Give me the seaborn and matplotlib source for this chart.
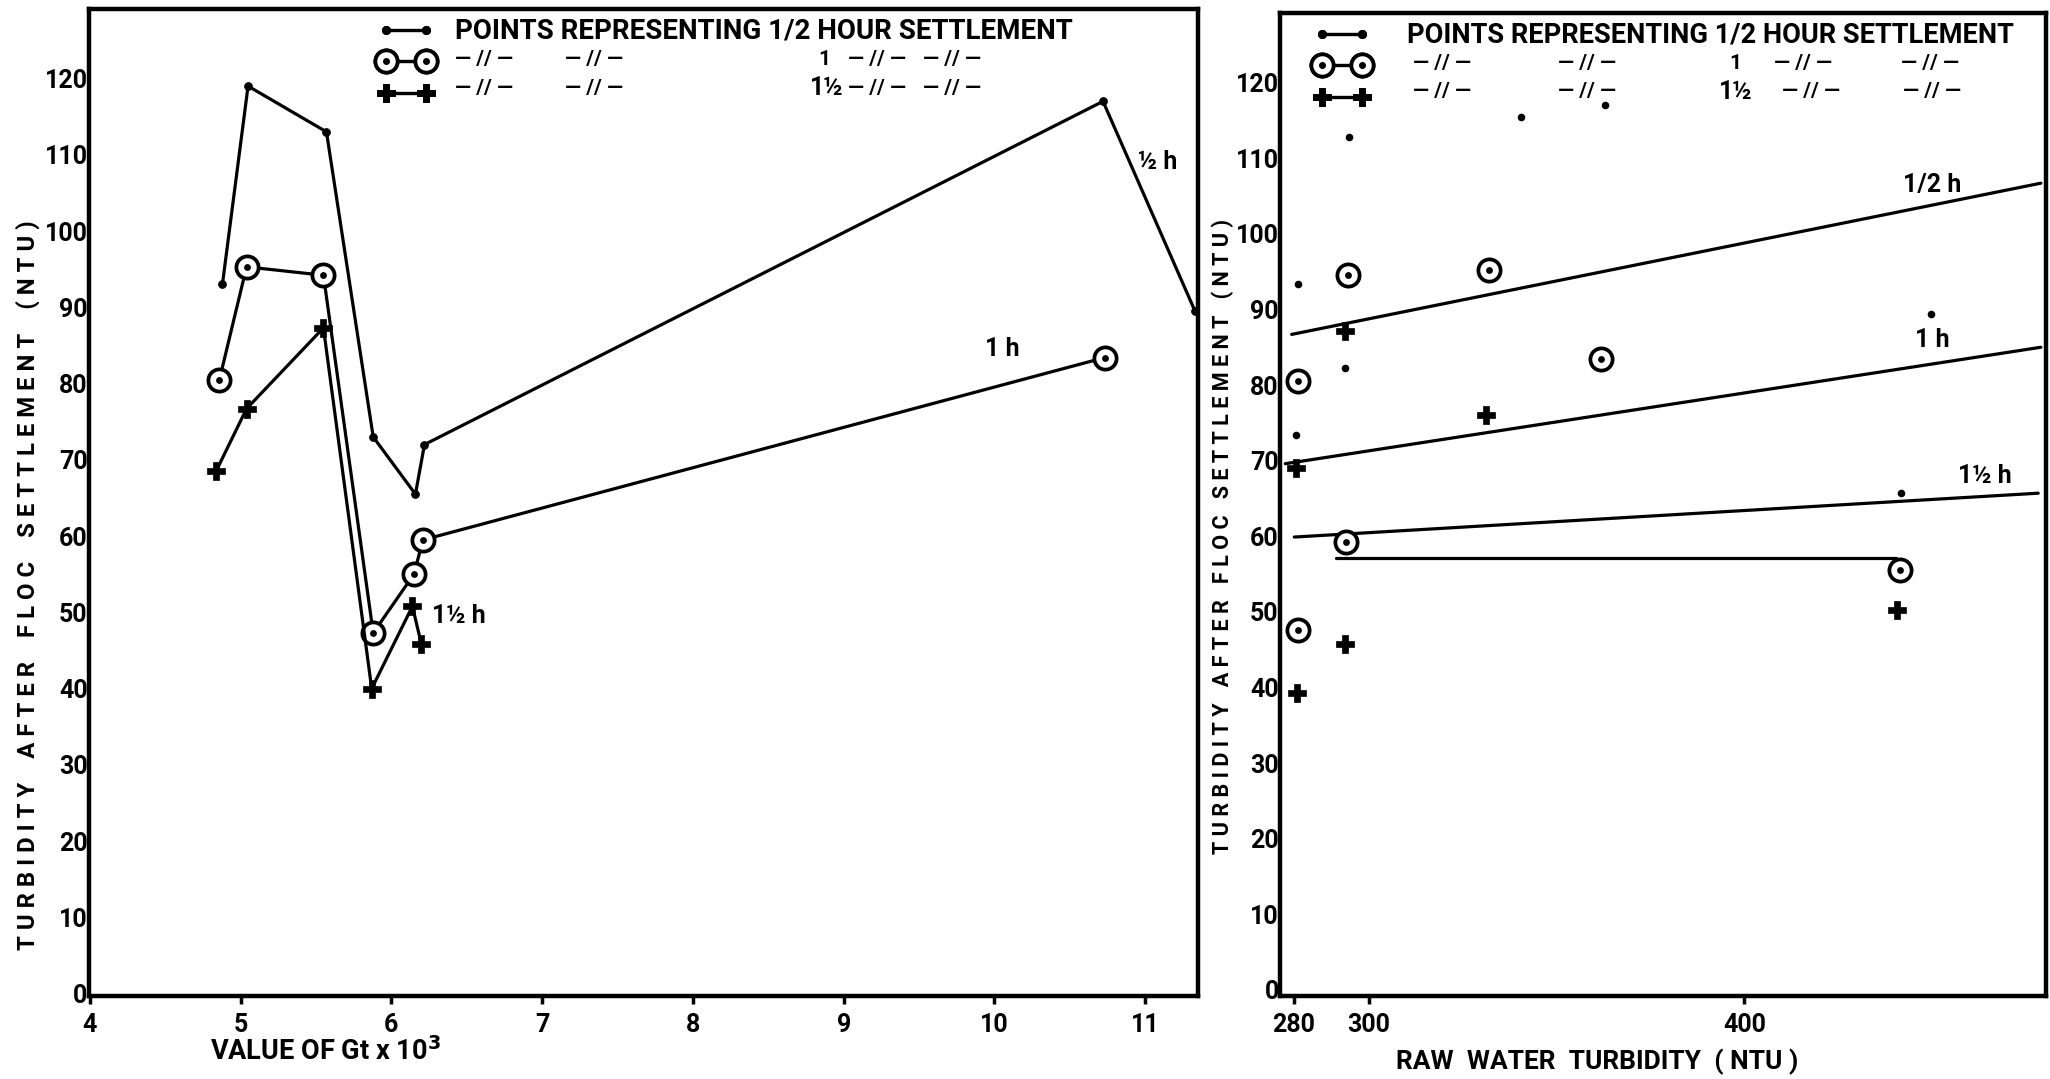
import matplotlib
matplotlib.use("Agg")
import matplotlib.pyplot as plt
import seaborn as sns
from matplotlib import font_manager
from matplotlib.lines import Line2D
from matplotlib.legend_handler import HandlerTuple

# ---------------- data ----------------
# Left panel: value of Gt x 10^3 vs turbidity after floc settlement (NTU)
gt_half = [4.88, 5.05, 5.57, 5.88, 6.16, 6.22, 10.72, 11.33]
turb_half = [93.0, 119.0, 113.0, 73.0, 65.5, 72.0, 117.0, 89.5]
gt_one = [4.86, 5.04, 5.55, 5.88, 6.15, 6.21, 10.73]
turb_one = [80.5, 95.3, 94.2, 47.3, 55.0, 59.5, 83.4]
gt_onehalf = [4.84, 5.04, 5.55, 5.87, 6.14, 6.20]
turb_onehalf = [68.6, 76.7, 87.3, 40.0, 50.8, 45.8]

# Right panel: raw water turbidity vs turbidity after floc settlement
raw_half = [281.2, 294.7, 293.7, 280.5, 340.6, 362.9, 449.8, 441.8]
set_half = [93.4, 112.8, 82.2, 73.4, 115.4, 117.1, 89.4, 65.7]
raw_one = [294.4, 331.9, 281.2, 361.8, 294.0, 281.2, 441.5]
set_one = [94.5, 95.2, 80.6, 83.4, 59.3, 47.6, 55.5]
raw_onehalf = [293.7, 331.2, 280.5, 293.7, 280.8, 440.8]
set_onehalf = [87.2, 76.0, 69.0, 45.7, 39.3, 50.3]

fit_raw_half = [279.4, 479.0]
fit_set_half = [86.7, 106.7]
fit_raw_one = [277.7, 479.0]
fit_set_one = [69.6, 85.0]
fit_raw_onehalf = [280.1, 478.3]
fit_set_onehalf = [59.9, 65.7]
flat_raw = [291.2, 440.4]
flat_set = [57.1, 57.1]

left_xticks = [4, 5, 6, 7, 8, 9, 10, 11]
right_xticks = [280, 300, 400]
right_xticklabels = ["280", "300", "400"]
yticks = [0, 10, 20, 30, 40, 50, 60, 70, 80, 90, 100, 110, 120]

legend_row1 = "POINTS REPRESENTING 1/2 HOUR SETTLEMENT"
ditto = "— // —"
row2_labels = [ditto, ditto, "1", ditto, ditto]
row3_labels = [ditto, ditto, "1½", ditto, ditto]
# column starts as fractions of the first legend row's width
left_row2_fracs = [0.0, 0.178, 0.588, 0.637, 0.758]
left_row3_fracs = [0.0, 0.178, 0.574, 0.637, 0.758]
right_row2_fracs = [0.009, 0.248, 0.53, 0.604, 0.813]
right_row3_fracs = [0.009, 0.248, 0.513, 0.617, 0.817]
ylabel_left = "T U R B I D I T Y    A F T E R    F L O C    S E T T L E M E N T    ( N T U )"
ylabel_right = "T U R B I D I T Y   A F T E R   F L O C   S E T T L E M E N T   ( N T U )"

# ---------------- style ----------------
sns.set_style("white")


def available(name):
    try:
        font_manager.findfont(font_manager.FontProperties(family=name, weight="bold"),
                              fallback_to_default=False)
        return True
    except Exception:
        return False


FAM = [f for f in ["Roboto"] if available(f)] + ["DejaVu Sans"]
plt.rcParams["font.family"] = FAM
plt.rcParams["font.weight"] = "bold"
for k in ["text.color", "axes.labelcolor", "xtick.color", "ytick.color"]:
    plt.rcParams[k] = "black"

fig = plt.figure(figsize=(20.5, 10.79), dpi=100)
axL = fig.add_axes([0.0434, 0.0769, 0.541, 0.9147])
axR = fig.add_axes([0.6244, 0.0769, 0.3737, 0.911])

LW = 2.3
RING = dict(marker="o", markersize=16, markerfacecolor="white",
            markeredgecolor="black", markeredgewidth=2.7)
DOT = dict(marker="o", markersize=5.5, markerfacecolor="black", markeredgecolor="black")
PLUS = dict(marker="P", markersize=13, markerfacecolor="black", markeredgecolor="black",
            markeredgewidth=0.5)
TXT = dict(fontsize=18, fontweight="bold", color="black")

# ---------------- left panel ----------------
sns.lineplot(x=gt_half, y=turb_half, ax=axL, sort=False, estimator=None,
             color="black", lw=LW, **DOT)
sns.lineplot(x=gt_one, y=turb_one, ax=axL, sort=False, estimator=None,
             color="black", lw=LW, **RING)
sns.scatterplot(x=gt_one, y=turb_one, ax=axL, color="black", s=24, linewidth=0, zorder=5)
sns.lineplot(x=gt_onehalf, y=turb_onehalf, ax=axL, sort=False, estimator=None,
             color="black", lw=LW, **PLUS)

axL.text(11.08, 109, "½ h", ha="center", va="center", **TXT)
axL.text(10.05, 84.5, "1 h", ha="center", va="center", **TXT)
axL.text(6.45, 49.5, "1½ h", ha="center", va="center", **TXT)

axL.set_xlim(3.995, 11.35)
axL.set_ylim(-0.3, 129.1)
axL.set_xticks(left_xticks)
axL.set_yticks(yticks)

# ---------------- right panel ----------------
for xs, ys in [(fit_raw_half, fit_set_half), (fit_raw_one, fit_set_one),
               (fit_raw_onehalf, fit_set_onehalf), (flat_raw, flat_set)]:
    sns.lineplot(x=xs, y=ys, ax=axR, sort=False, estimator=None, color="black", lw=LW)

sns.scatterplot(x=raw_half, y=set_half, ax=axR, color="black", s=30, linewidth=0, zorder=5)
sns.scatterplot(x=raw_one, y=set_one, ax=axR, s=256, facecolor="white",
                edgecolor="black", linewidth=2.7, zorder=5)
sns.scatterplot(x=raw_one, y=set_one, ax=axR, color="black", s=24, linewidth=0, zorder=6)
sns.scatterplot(x=raw_onehalf, y=set_onehalf, ax=axR, marker="P", color="black",
                s=170, linewidth=0.5, edgecolor="black", zorder=5)

axR.text(450, 106.5, "1/2 h", ha="center", va="center", **TXT)
axR.text(450, 86.0, "1 h", ha="center", va="center", **TXT)
axR.text(464, 68.0, "1½ h", ha="center", va="center", **TXT)

axR.set_xlim(276.3, 480.4)
axR.set_ylim(-0.8, 129.2)
axR.set_xticks(right_xticks)
axR.set_xticklabels(right_xticklabels)
axR.set_yticks(yticks)

# ---------------- common axis styling ----------------
for ax in (axL, axR):
    for sp in ax.spines.values():
        sp.set_visible(True)
        sp.set_color("black")
        sp.set_linewidth(3.2)
    ax.tick_params(axis="x", length=6, width=2.5, direction="out", pad=6,
                   labelsize=18, bottom=True, colors="black")
    ax.tick_params(axis="y", length=0, pad=1, labelsize=18, left=True, colors="black")
    for lab in ax.get_xticklabels() + ax.get_yticklabels():
        lab.set_fontweight("bold")
    ax.set_xlabel("")
    ax.set_ylabel("")

# ---------------- legends ----------------
h_half = Line2D([], [], color="black", lw=LW, marker="o", markersize=5.5)
h_one = (Line2D([], [], color="black", lw=LW, **RING),
         Line2D([], [], color="none", lw=0, marker="o", markersize=4, markerfacecolor="black",
                markeredgecolor="black"))
h_onehalf = Line2D([], [], color="black", lw=LW, **PLUS)

row_y = [0.978, 0.949, 0.920]


def add_legend(ax, anchor_x, text_x, size):
    leg = ax.legend([h_half, h_one, h_onehalf], ["", "", ""], loc="upper left",
                    bbox_to_anchor=(anchor_x, 0.993), frameon=False, numpoints=2,
                    handlelength=2.4, handletextpad=0.0, labelspacing=0.44,
                    borderaxespad=0.0, borderpad=0.2, fontsize=16,
                    handler_map={tuple: HandlerTuple(ndivide=1)})
    ax.add_artist(leg)
    t = ax.text(text_x, row_y[0], legend_row1, transform=ax.transAxes,
                va="center", ha="left", fontsize=size, fontweight="bold", color="black")
    return t


tL = add_legend(axL, 0.258, 0.33, 20)
tR = add_legend(axR, 0.04, 0.166, 19.6)

fig.canvas.draw()
renderer = fig.canvas.get_renderer()
for ax, t, f2s, f3s in [(axL, tL, left_row2_fracs, left_row3_fracs),
                        (axR, tR, right_row2_fracs, right_row3_fracs)]:
    bb = t.get_window_extent(renderer).transformed(ax.transAxes.inverted())
    x0, w = bb.x0, bb.width
    for f2, f3, l2, l3 in zip(f2s, f3s, row2_labels, row3_labels):
        ax.text(x0 + f2 * w, row_y[1], l2, transform=ax.transAxes,
                va="center", ha="left", fontsize=15, fontweight="bold", color="black")
        ax.text(x0 + f3 * w, row_y[2], l3, transform=ax.transAxes,
                va="center", ha="left", fontsize=15 if l3 == ditto else 18,
                fontweight="bold", color="black")

# ---------------- axis titles ----------------
fig.text(0.0135, 0.458, ylabel_left, rotation=90, fontsize=17.2, fontweight="bold",
         ha="center", va="center", color="black")
fig.text(0.5965, 0.503, ylabel_right, rotation=90, fontsize=15.6, fontweight="bold",
         ha="center", va="center", color="black")
fig.text(0.159, 0.025, "VALUE OF Gt x 10$^\\mathbf{3}$", fontsize=19.5, fontweight="bold",
         ha="center", va="center", color="black")
fig.text(0.779, 0.016, "RAW  WATER  TURBIDITY  ( NTU )", fontsize=19, fontweight="bold",
         ha="center", va="center", color="black")

fig.savefig("out.png", dpi=100, facecolor="white")
